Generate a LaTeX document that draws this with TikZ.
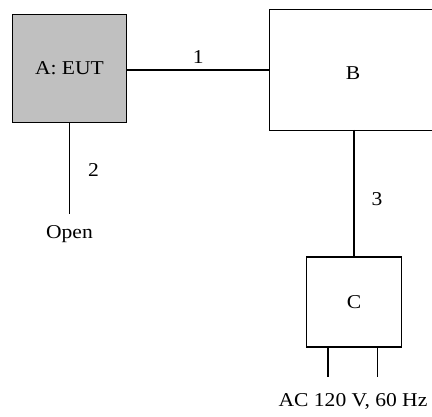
\documentclass[tikz,border=0pt]{standalone}
\usepackage{fontspec}
\setmainfont{Liberation Serif}[FakeStretch=1.1]
\begin{document}
\begin{tikzpicture}[x=1pt,y=-1pt,
  line width=1.1pt,
  lbl/.style={font=\fontsize{19.6}{22}\selectfont, inner sep=0pt},
  boxnode/.style={draw, line width=1.1pt, inner sep=0pt, font=\fontsize{19.6}{22}\selectfont}]
  \useasboundingbox (0,0) rectangle (432,417);
  % units
  \node[boxnode, fill={rgb,255:red,192;green,192;blue,192}, minimum width=114.5pt, minimum height=108pt] (A) at (69.5,68.2) {A: EUT};
  \node[boxnode, minimum width=165pt, minimum height=121pt, anchor=north west] (B) at (269,9.3) {};
  \node[lbl] (Bl) at (353,73) {B};
  \node[boxnode, minimum width=94.5pt, minimum height=90pt] (C) at (354,302) {C};
  % terminals
  \coordinate (open) at (69.7,214);
  \coordinate (B3) at (354,130);
  \coordinate (A1) at (A.east |- 0,70);
  \coordinate (B1) at (269,70);
  \coordinate (leg1) at (328,377);
  \coordinate (leg2) at (377.7,377);
  % cables
  \draw (A1) -- node[lbl, above=6pt] (n1) {1} (B1);
  \draw (A.south -| open) -- node[lbl, pos=0.52, right=18pt] (n2) {2} (open);
  \draw (B3) -- node[lbl, pos=0.55, right=17pt] (n3) {3} (C.north -| B3);
  \draw (C.south -| leg1) -- (leg1);
  \draw (C.south -| leg2) -- (leg2);
  % labels
  \node[lbl] (openl) at (69.5,234) {Open};
  \node[lbl] (acl) at (353,401) {AC 120 V, 60 Hz};
\end{tikzpicture}
\end{document}
